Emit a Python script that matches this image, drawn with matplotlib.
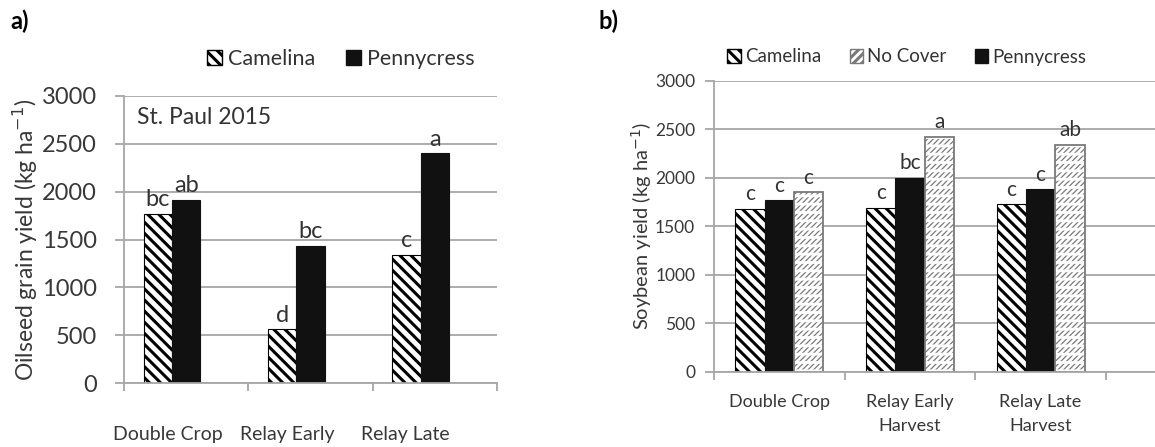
import matplotlib
matplotlib.use("Agg")
import numpy as np
from matplotlib import pyplot as plt
from matplotlib.patches import Patch

# panel a - oilseed grain yield
cats_a = ["Double Crop", "Relay Early", "Relay Late"]
camelina_a = [1770, 560, 1340]
pennycress_a = [1910, 1430, 2400]
letters_cam_a = ["bc", "d", "c"]
letters_pen_a = ["ab", "bc", "a"]

# panel b - soybean yield
cats_b = ["Double Crop", "Relay Early\nHarvest", "Relay Late\nHarvest"]
camelina_b = [1680, 1690, 1730]
pennycress_b = [1770, 2000, 1880]
nocover_b = [1850, 2420, 2340]
letters_cam_b = ["c", "c", "c"]
letters_pen_b = ["c", "bc", "c"]
letters_nc_b = ["c", "a", "ab"]

plt.rcParams['font.family'] = ['Lato', 'DejaVu Sans']
plt.rcParams['text.color'] = '#333333'
plt.rcParams['hatch.linewidth'] = 2.2

GRID = '#a6a6a6'
TXT = '#383838'
NC_EDGE = '#7a7a7a'
# in panel a the category names sit a little left of the category centres
label_shift_a = [-0.15, -0.19, -0.24]


def style_axes(ax, fs_tick, ypad):
    for s in ['top', 'right']:
        ax.spines[s].set_visible(False)
    for s in ['left', 'bottom']:
        ax.spines[s].set_color(GRID)
        ax.spines[s].set_linewidth(1.3)
    ax.set_ylim(0, 3000)
    ax.set_yticks(np.arange(0, 3001, 500))
    ax.yaxis.grid(True, color=GRID, linewidth=1.3)
    ax.set_axisbelow(True)
    ax.tick_params(axis='y', length=6.5, width=1.3, color=GRID, labelsize=fs_tick, labelcolor=TXT, pad=ypad)
    ax.set_xticks([-0.5, 0.5, 1.5, 2.5])
    ax.set_xticklabels([])
    ax.tick_params(axis='x', which='major', length=6, width=1.3, color=GRID)
    ax.tick_params(axis='x', which='minor', length=0, labelcolor=TXT)


def set_hlw(patches, lw):
    for p in patches:
        if hasattr(p, 'set_hatch_linewidth'):
            p.set_hatch_linewidth(lw)


fig = plt.figure(figsize=(11.55, 4.47), dpi=100)

# ---------- a ----------
ax1 = fig.add_axes([124 / 1155, 1 - 383 / 447, 373 / 1155, 287 / 447])
x = np.arange(len(cats_a))
w = 0.228
ax1.bar(x - w, camelina_a, w, color='white', edgecolor='black', linewidth=0.8, hatch='\\\\\\')
ax1.bar(x, pennycress_a, w, color='#111111', edgecolor='#111111', linewidth=0.8)
ax1.set_xlim(-0.5, 2.5)
style_axes(ax1, 17, 13)
ax1.set_xticks(x + np.array(label_shift_a), minor=True)
ax1.set_xticklabels(cats_a, minor=True, fontsize=14)
ax1.tick_params(axis='x', which='minor', pad=31)
ax1.set_ylabel("Oilseed grain yield (kg ha$^{-1}$)", fontsize=16.5, color=TXT, labelpad=1)
for i in range(len(cats_a)):
    ax1.text(x[i] - w, camelina_a[i] + 40, letters_cam_a[i], ha='center', va='bottom', fontsize=17)
    ax1.text(x[i], pennycress_a[i] + 40, letters_pen_a[i], ha='center', va='bottom', fontsize=17)
ax1.text(0.035, 0.925, "St. Paul 2015", transform=ax1.transAxes, ha='left', va='center', fontsize=16.5)

leg_a = [Patch(facecolor='white', edgecolor='black', hatch='\\\\\\', label='Camelina'),
         Patch(facecolor='#111111', edgecolor='#111111', label='Pennycress')]
fig.legend(handles=leg_a, loc='center', bbox_to_anchor=(341 / 1155, 1 - 59 / 447), ncol=2, frameon=False,
           fontsize=15.5, handlelength=0.7, handleheight=0.7, handletextpad=0.3, columnspacing=1.4)

# ---------- b ----------
ax2 = fig.add_axes([714 / 1155, 1 - 372 / 447, 441 / 1155, 291.5 / 447])
xb = np.arange(len(cats_b))
wb = 0.224
ax2.bar(xb - wb, camelina_b, wb, color='white', edgecolor='black', linewidth=0.8, hatch='\\\\\\')
ax2.bar(xb, pennycress_b, wb, color='#111111', edgecolor='#111111', linewidth=0.8)
# no cover: thin grey slashes broken into rows by white horizontal bands
nc = ax2.bar(xb + wb, nocover_b, wb, color='white', edgecolor=NC_EDGE, linewidth=0, hatch='//////')
set_hlw(nc, 0.9)
gaps = ax2.bar(xb + wb, nocover_b, wb, fill=False, edgecolor='white', linewidth=0, hatch='--')
set_hlw(gaps, 2.0)
ax2.bar(xb + wb, nocover_b, wb, fill=False, edgecolor=NC_EDGE, linewidth=1.3)
ax2.set_xlim(-0.5, 2.5 + 49 / 130.5)
style_axes(ax2, 12.5, 7)
ax2.set_xticks(xb, minor=True)
ax2.set_xticklabels(cats_b, minor=True, fontsize=13, linespacing=1.6)
ax2.tick_params(axis='x', which='minor', pad=16)
ax2.set_ylabel("Soybean yield (kg ha$^{-1}$)", fontsize=14.5, color=TXT, labelpad=1)
for i in range(len(cats_b)):
    ax2.text(xb[i] - wb, camelina_b[i] + 45, letters_cam_b[i], ha='center', va='bottom', fontsize=15)
    ax2.text(xb[i], pennycress_b[i] + 45, letters_pen_b[i], ha='center', va='bottom', fontsize=15)
    ax2.text(xb[i] + wb, nocover_b[i] + 45, letters_nc_b[i], ha='center', va='bottom', fontsize=15)

leg_b = [Patch(facecolor='white', edgecolor='black', hatch='\\\\\\', label='Camelina'),
         Patch(facecolor='white', edgecolor=NC_EDGE, hatch='////', label='No Cover'),
         Patch(facecolor='#111111', edgecolor='#111111', label='Pennycress')]
fig.legend(handles=leg_b, loc='center', bbox_to_anchor=(907 / 1155, 1 - 57 / 447), ncol=3, frameon=False,
           fontsize=13.5, handlelength=0.7, handleheight=0.7, handletextpad=0.25, columnspacing=1.5)

fig.text(10 / 1155, 1 - 21 / 447, "a)", fontsize=17, fontweight='bold', color='black', va='center')
fig.text(598 / 1155, 1 - 21 / 447, "b)", fontsize=17, fontweight='bold', color='black', va='center')

fig.savefig("out.png", dpi=100)
